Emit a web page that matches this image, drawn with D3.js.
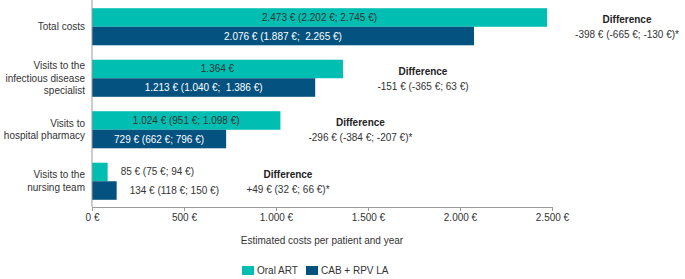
<!DOCTYPE html>
<html>
<head>
<meta charset="utf-8">
<script src="https://cdn.jsdelivr.net/npm/d3@7"></script>
<style>
  body { margin: 0; background: #fff; }
  svg { font-family: "Liberation Sans", Arial, sans-serif; }
  text { white-space: pre; }
</style>
</head>
<body>
<script>
// data
const categories = ["Total costs", "Visits to the infectious disease specialist", "Visits to hospital pharmacy", "Visits to the nursing team"];
const catLines = [["Total costs"], ["Visits to the", "infectious disease", "specialist"], ["Visits to", "hospital pharmacy"], ["Visits to the", "nursing team"]];
const oralArt = [2473, 1364, 1024, 85];
const cabRpv = [2076, 1213, 729, 134];
const oralLabels = ["2.473 € (2.202 €; 2.745 €)", "1.364 €", "1.024 € (951 €; 1.098 €)", "85 € (75 €; 94 €)"];
const cabLabels = ["2.076 € (1.887 €;  2.265 €)", "1.213 € (1.040 €;  1.386 €)", "729 € (662 €; 796 €)", "134 € (118 €; 150 €)"];
const diffLabels = ["-398 € (-665 €; -130 €)*", "-151 € (-365 €; 63 €)", "-296 € (-384 €; -207 €)*", "+49 € (32 €; 66 €)*"];
const series = ["Oral ART", "CAB + RPV LA"];
const xTicks = [0, 500, 1000, 1500, 2000, 2500];

const width = 685, height = 279;
const colors = {"Oral ART": "#00bfb2", "CAB + RPV LA": "#04527f"};
const textColor = "#333";

const fmt = d => d3.format(",")(d).replace(/,/g, ".") + " €";

const x = d3.scaleLinear().domain([0, 2500]).range([92, 552]);
const y = d3.scaleBand().domain(categories).range([1, 207]).paddingInner(0.28).paddingOuter(0.14);
const sub = d3.scaleBand().domain(series).range([0, y.bandwidth()]);

const svg = d3.select("body").append("svg").attr("width", width).attr("height", height);

const rows = categories.map((c, i) => ({cat: c, i, vals: [
  {s: series[0], v: oralArt[i], label: oralLabels[i]},
  {s: series[1], v: cabRpv[i], label: cabLabels[i]}
]}));

const g = svg.selectAll("g.row").data(rows).join("g")
  .attr("class", "row")
  .attr("transform", d => `translate(0,${y(d.cat)})`);

g.selectAll("rect").data(d => d.vals).join("rect")
  .attr("x", x(0))
  .attr("y", d => sub(d.s))
  .attr("width", d => x(d.v) - x(0))
  .attr("height", sub.bandwidth())
  .attr("fill", d => colors[d.s]);

// value labels: inside bars when they fit, else just after the bar
g.selectAll("text.val").data(d => d.vals).join("text")
  .attr("class", "val")
  .attr("font-size", 10)
  .attr("dy", "0.35em")
  .attr("y", d => sub(d.s) + sub.bandwidth() / 2)
  .text(d => d.label)
  .each(function(d) {
    const inside = this.getComputedTextLength() + 16 < x(d.v) - x(0);
    d3.select(this)
      .attr("x", inside ? (x(0) + x(d.v)) / 2 : x(d.v) + 13)
      .attr("text-anchor", inside ? "middle" : "start")
      .attr("fill", inside && d.s === series[1] ? "#fff" : textColor);
  });

// difference annotations
g.each(function(d) {
  const row = d3.select(this);
  let end = x(d3.max(d.vals, v => v.v)) + 80;
  row.selectAll("text.val").each(function() {
    if (this.getAttribute("text-anchor") === "start") {
      end = Math.max(end, +this.getAttribute("x") + this.getComputedTextLength() + 69);
    }
  });
  const cy = y.bandwidth() / 2;
  row.append("text")
    .attr("x", end).attr("y", cy - 7).attr("dy", "0.35em")
    .attr("text-anchor", "middle").attr("font-size", 10).attr("font-weight", "bold")
    .attr("fill", "#222").text("Difference");
  row.append("text")
    .attr("x", end).attr("y", cy + 8).attr("dy", "0.35em")
    .attr("text-anchor", "middle").attr("font-size", 10)
    .attr("fill", textColor).text(diffLabels[d.i]);
});

// category labels
g.append("text")
  .attr("text-anchor", "end")
  .attr("font-size", 10)
  .attr("fill", textColor)
  .each(function(d) {
    const lines = catLines[d.i];
    const lh = 12.5;
    const y0 = y.bandwidth() / 2 - (lines.length - 1) * lh / 2;
    d3.select(this).selectAll("tspan").data(lines).join("tspan")
      .attr("x", 85)
      .attr("y", (t, j) => y0 + j * lh)
      .attr("dy", "0.35em")
      .text(t => t);
  });

// axes
svg.append("g")
  .attr("transform", "translate(0,207)")
  .call(d3.axisBottom(x).tickValues(xTicks).tickFormat(fmt).tickSizeOuter(0).tickSize(4).tickPadding(3))
  .call(a => a.selectAll("line, path").attr("stroke", "#999"))
  .call(a => a.selectAll("text").attr("font-size", 10).attr("fill", textColor).attr("font-family", null));

svg.append("line")
  .attr("x1", x(0)).attr("x2", x(0)).attr("y1", 0).attr("y2", 207)
  .attr("stroke", "#999");

svg.append("text")
  .attr("x", 322).attr("y", 240).attr("dy", "0.35em")
  .attr("text-anchor", "middle").attr("font-size", 10).attr("fill", textColor)
  .text("Estimated costs per patient and year");

// legend
const leg = svg.append("g").attr("transform", "translate(242,266)");
const lx = [0, 64];
series.forEach((s, i) => {
  leg.append("rect").attr("x", lx[i]).attr("y", 0).attr("width", 12).attr("height", 9).attr("fill", colors[s]);
  leg.append("text").attr("x", lx[i] + 15).attr("y", 4.5).attr("dy", "0.35em")
    .attr("font-size", 10).attr("fill", textColor).text(s);
});
</script>
</body>
</html>
